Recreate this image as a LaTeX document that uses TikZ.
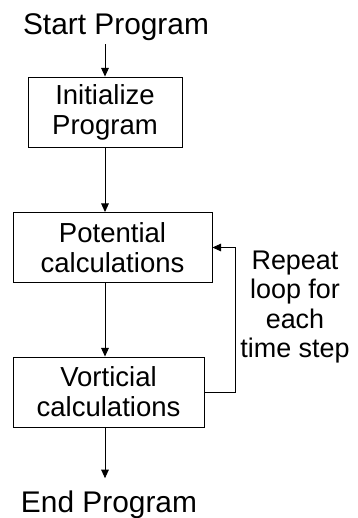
\documentclass[tikz,border=0pt]{standalone}
\usepackage{fontspec}
\setmainfont{Liberation Sans}
\usepackage{tikz}
\usetikzlibrary{arrows.meta, positioning, calc}

\begin{document}
\begin{tikzpicture}[
    x=0.03cm, y=-0.03cm,
    stepbox/.style={
        draw, line width=0.8pt,
        minimum height=2.1cm,
        align=center,
        font=\fontsize{23.5}{25.5}\selectfont
    },
    term/.style={font=\fontsize{25.5}{28}\selectfont, anchor=base},
    flow/.style={draw, line width=0.8pt, -{Triangle[length=2.6mm, width=2.3mm]}},
    note/.style={align=center, font=\fontsize{23}{25.2}\selectfont}
]
\useasboundingbox (0,0) rectangle (358,518);

% ------- Terminals -------
\node[term] (start) at (116, 34) {Start Program};
\node[term] (finish) at (109, 512) {End Program};

% ------- Process boxes -------
\node[stepbox, minimum width=4.62cm] (init) at (105, 112)
    {Initialize\\Program};
\node[stepbox, minimum width=5.97cm] (pot) at (112.5, 247.5)
    {Potential\\calculations};
\node[stepbox, minimum width=5.73cm] (vort) at (108.5, 392)
    {Vorticial\\calculations};

% ------- Loop label -------
\node[note] (loop) at (295, 307) {Repeat\\loop for\\each\\time step};

% ------- Connectors -------
\draw[flow] (init.north |- start.south) -- (init.north);
\draw[flow] (init.south) -- (init.south |- pot.north);
\draw[flow] (init.south |- pot.south) -- (init.south |- vort.north);
\draw[flow, shorten >=0.24cm] (init.south |- vort.south) -- (init.south |- finish.north);
\draw[flow] (vort.east) -- ++(31, 0) |- (pot.east);
\end{tikzpicture}
\end{document}
